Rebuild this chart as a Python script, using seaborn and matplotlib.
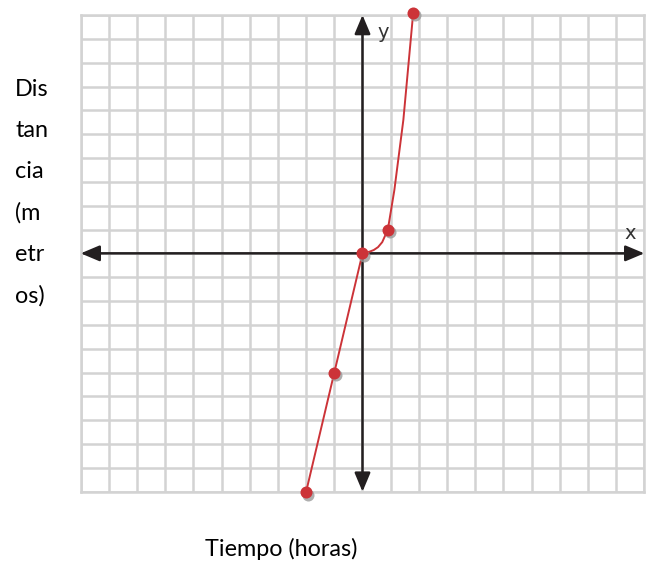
import matplotlib
matplotlib.use("Agg")
import matplotlib.pyplot as plt
import seaborn as sns
import pandas as pd

# Points plotted on the coordinate grid
point_x = [-2, -1, 0, 0.9, 1.8]
point_y = [-10, -5, 0, 1, 10.1]

# Path of the drawn curve through the points
curve_x = [-2, -1, 0, 0.1, 0.25, 0.4, 0.55, 0.7, 0.9, 1.13, 1.45, 1.8]
curve_y = [-10, -5, 0, 0.03, 0.07, 0.14, 0.26, 0.47, 1, 2.65, 5.6, 10.1]

grid_ticks = list(range(-10, 11))
y_label_lines = ["Dis", "tan", "cia", "(m", "etr", "os)"]
x_label = "Tiempo (horas)"

sns.set_theme(style="white")
plt.rcParams["font.family"] = ["Lato", "DejaVu Sans"]

fig = plt.figure(figsize=(6.48, 5.69), dpi=100)
W, H = 648, 569
left, right, top, bottom = 80.7, 644.3, 15.0, 491.7
ax = fig.add_axes([left / W, 1 - bottom / H, (right - left) / W, (bottom - top) / H])

ax.set_xlim(-10, 10)
ax.set_ylim(-10, 10)
ax.set_xticks(grid_ticks)
ax.set_yticks(grid_ticks)
ax.set_xticklabels([])
ax.set_yticklabels([])
ax.tick_params(length=0)
ax.grid(True, color="#d3d3d3", linewidth=1.8)
for sp in ax.spines.values():
    sp.set_color("#d3d3d3")
    sp.set_linewidth(1.8)

axis_color = "#231f20"
arrow_props = dict(arrowstyle="<|-|>,head_length=0.95,head_width=0.4",
                   color=axis_color, lw=1.8, shrinkA=0, shrinkB=0)
ax.annotate("", xy=(10, 0), xytext=(-10, 0), arrowprops=arrow_props,
            annotation_clip=False, zorder=3)
ax.annotate("", xy=(0, 10), xytext=(0, -10), arrowprops=arrow_props,
            annotation_clip=False, zorder=3)

ax.text(9.5, 0.85, "x", fontsize=14, color="#333333", family="DejaVu Sans",
        ha="center", va="center")
ax.text(0.72, 9.25, "y", fontsize=14, color="#333333", family="DejaVu Sans",
        ha="center", va="center")

red = "#cc3338"
curve_df = pd.DataFrame({"x": curve_x, "y": curve_y})
sns.lineplot(data=curve_df, x="x", y="y", ax=ax, color=red, linewidth=1.4,
             sort=False, estimator=None, zorder=4)
ax.lines[-1].set_clip_on(False)

pts = pd.DataFrame({"x": point_x, "y": point_y})
# soft shadow under each dot
sns.scatterplot(x=[v + 0.06 for v in point_x], y=[v - 0.12 for v in point_y],
                ax=ax, color="#9a9a9a", s=75, linewidth=0, zorder=5, alpha=0.8)
sns.scatterplot(data=pts, x="x", y="y", ax=ax, color=red, s=75,
                linewidth=0, zorder=6)
for c in ax.collections:
    c.set_clip_on(False)

ax.set_xlabel("")
ax.set_ylabel("")

for i, line in enumerate(y_label_lines):
    fig.text(15 / W, 1 - (89 + i * 41.4) / H, line, fontsize=16.8,
             color="black", ha="left", va="center")
fig.text(281 / W, 1 - 549 / H, x_label, fontsize=16.8, color="black",
         ha="center", va="center")

fig.savefig("out.png", dpi=100, facecolor="white")
